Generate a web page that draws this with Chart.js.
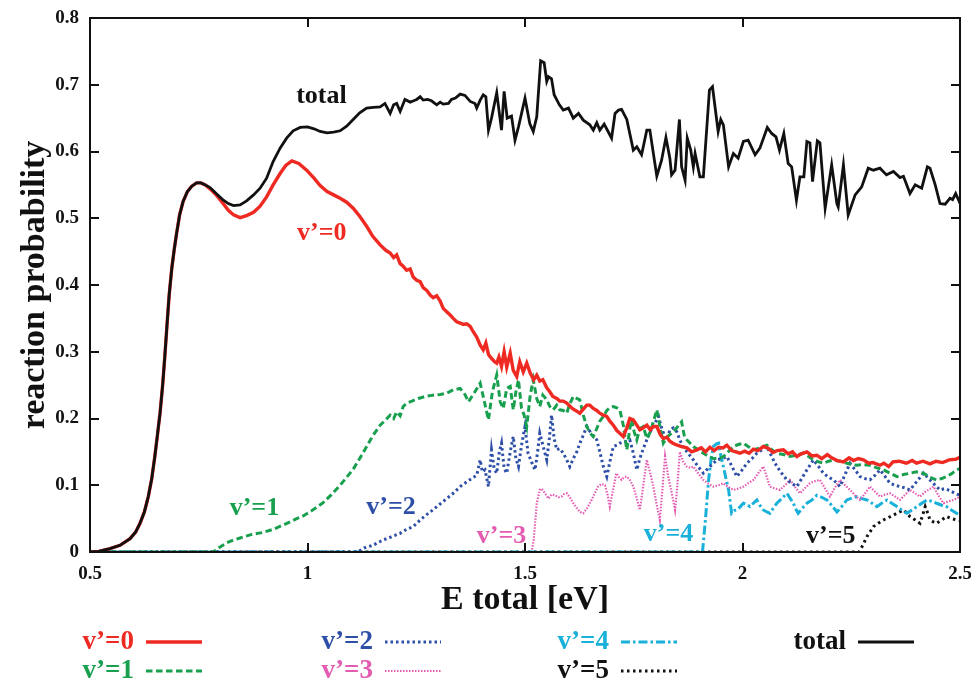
<!DOCTYPE html>
<html>
<head>
<meta charset="utf-8">
<title>reaction probability</title>
<script src="https://cdn.jsdelivr.net/npm/chart.js@4.4.1/dist/chart.umd.min.js"></script>
<style>
  html, body { margin: 0; padding: 0; background: #fff; }
  #wrap { width: 971px; height: 683px; }
</style>
</head>
<body>
<div id="wrap"><canvas id="prob" width="971" height="683"></canvas></div>
<script>
// =====================
// Reaction probability vs total energy, resolved by product vibrational state v'
// Each curve is a list of [E total (eV), probability] pairs
// =====================

const totalCurve = [
  [0.5,0],[0.52,0.001],[0.546,0.005],[0.569,0.010],[0.592,0.020],[0.605,0.030],[0.615,0.043],[0.625,0.060],[0.634,0.083],[0.642,0.110],
  [0.649,0.143],[0.655,0.175],[0.661,0.208],[0.667,0.250],[0.672,0.293],[0.677,0.340],[0.682,0.385],[0.688,0.425],[0.694,0.455],[0.699,0.477],
  [0.706,0.505],[0.714,0.525],[0.724,0.540],[0.734,0.548],[0.745,0.553],[0.755,0.553],[0.765,0.550],
  [0.776,0.546],[0.79,0.537],[0.805,0.528],[0.818,0.522],[0.83,0.519],[0.845,0.520],[0.86,0.526],[0.876,0.535],[0.891,0.545],[0.906,0.560],
  [0.921,0.585],[0.937,0.605],[0.952,0.620],[0.967,0.631],[0.983,0.636],[1.0,0.637],[1.015,0.634],[1.029,0.630],[1.045,0.628],[1.06,0.629],
  [1.075,0.631],[1.09,0.638],[1.105,0.648],[1.12,0.658],[1.136,0.665],[1.151,0.666],[1.167,0.667],
  [1.178,0.672],[1.19,0.657],[1.198,0.670],[1.205,0.672],[1.213,0.660],[1.224,0.678],[1.236,0.674],[1.244,0.676],[1.251,0.678],[1.259,0.682],
  [1.266,0.677],[1.276,0.678],[1.285,0.676],[1.297,0.670],[1.305,0.674],[1.312,0.671],[1.324,0.672],[1.331,0.678],[1.34,0.680],[1.351,0.686],
  [1.362,0.684],[1.374,0.675],[1.385,0.672],[1.389,0.665],[1.397,0.677],[1.404,0.685],[1.41,0.682],
  [1.416,0.632],[1.423,0.650],[1.435,0.688],[1.446,0.632],[1.452,0.690],[1.459,0.650],[1.469,0.653],[1.477,0.617],[1.485,0.637],[1.5,0.680],
  [1.511,0.642],[1.519,0.630],[1.527,0.652],[1.536,0.736],[1.544,0.733],[1.55,0.705],[1.554,0.712],[1.561,0.709],[1.567,0.685],[1.579,0.670],
  [1.588,0.662],[1.6,0.665],[1.611,0.650],[1.623,0.657],[1.634,0.647],[1.649,0.640],[1.657,0.632],[1.665,0.643],[1.672,0.632],[1.682,0.641],
  [1.691,0.630],[1.699,0.620],[1.707,0.657],[1.715,0.662],[1.722,0.663],[1.734,0.648],[1.749,0.602],[1.757,0.607],[1.768,0.595],[1.78,0.632],
  [1.787,0.632],[1.803,0.563],[1.814,0.587],[1.824,0.621],[1.833,0.590],[1.837,0.565],[1.845,0.572],[1.855,0.648],[1.86,0.577],[1.868,0.557],
  [1.873,0.620],[1.881,0.602],[1.887,0.577],[1.891,0.597],[1.902,0.562],[1.91,0.562],[1.924,0.692],[1.931,0.697],[1.944,0.630],[1.95,0.648],
  [1.956,0.640],[1.968,0.577],[1.979,0.597],[1.99,0.590],[2.002,0.615],[2.013,0.617],[2.029,0.595],[2.04,0.605],[2.057,0.636],[2.067,0.627],
  [2.077,0.622],[2.085,0.602],[2.095,0.627],[2.105,0.582],[2.113,0.577],[2.124,0.527],[2.132,0.562],[2.141,0.562],[2.148,0.615],[2.155,0.613],
  [2.161,0.555],[2.172,0.616],[2.178,0.613],[2.19,0.515],[2.205,0.580],[2.217,0.522],[2.22,0.517],[2.232,0.580],[2.243,0.505],[2.259,0.535],
  [2.274,0.547],[2.289,0.575],[2.301,0.572],[2.316,0.575],[2.331,0.565],[2.347,0.570],[2.362,0.561],[2.37,0.563],[2.385,0.537],[2.397,0.550],
  [2.412,0.545],[2.425,0.577],[2.431,0.575],[2.443,0.550],[2.454,0.522],[2.466,0.521],[2.477,0.530],[2.483,0.528],[2.49,0.537],[2.497,0.527],
  [2.5,0.522]
];

const v0Curve = [
  [0.5,0],[0.52,0.001],[0.546,0.005],[0.569,0.010],[0.592,0.020],[0.605,0.030],[0.615,0.043],[0.625,0.060],[0.634,0.083],[0.642,0.110],
  [0.649,0.143],[0.655,0.175],[0.661,0.208],[0.667,0.250],[0.672,0.293],[0.677,0.340],[0.682,0.385],[0.688,0.425],[0.694,0.455],[0.699,0.477],
  [0.706,0.505],[0.714,0.525],[0.724,0.540],[0.734,0.548],[0.745,0.553],[0.755,0.553],[0.765,0.550],
  [0.776,0.544],[0.79,0.535],[0.805,0.523],[0.818,0.512],[0.83,0.505],[0.845,0.501],[0.86,0.504],[0.876,0.509],[0.891,0.518],[0.906,0.532],
  [0.921,0.550],[0.937,0.567],[0.95,0.579],[0.964,0.586],[0.98,0.582],[0.998,0.572],[1.015,0.560],[1.029,0.549],[1.045,0.540],[1.06,0.535],
  [1.075,0.530],[1.09,0.524],[1.105,0.515],[1.12,0.503],[1.136,0.488],[1.15,0.473],[1.167,0.460],[1.18,0.452],[1.19,0.448],[1.198,0.441],
  [1.205,0.445],[1.213,0.432],[1.22,0.428],[1.228,0.422],[1.236,0.424],[1.243,0.412],[1.251,0.407],[1.259,0.405],[1.266,0.396],[1.274,0.392],
  [1.282,0.385],[1.289,0.381],[1.297,0.384],[1.305,0.376],[1.312,0.365],[1.32,0.360],[1.328,0.355],[1.335,0.350],[1.343,0.345],[1.351,0.343],
  [1.358,0.341],[1.366,0.342],[1.374,0.338],[1.381,0.330],[1.389,0.322],[1.397,0.310],[1.404,0.303],[1.41,0.313],[1.416,0.296],[1.423,0.290],
  [1.43,0.285],[1.435,0.283],[1.44,0.292],[1.446,0.278],[1.452,0.300],[1.458,0.277],[1.466,0.298],[1.473,0.272],[1.481,0.263],[1.488,0.285],
  [1.496,0.270],[1.504,0.283],[1.512,0.268],[1.52,0.258],[1.527,0.265],[1.534,0.256],[1.541,0.258],[1.55,0.246],[1.557,0.240],[1.564,0.233],
  [1.573,0.230],[1.58,0.226],[1.588,0.226],[1.596,0.223],[1.604,0.218],[1.611,0.214],[1.619,0.211],[1.626,0.208],[1.634,0.214],[1.642,0.220],
  [1.649,0.220],[1.657,0.215],[1.665,0.212],[1.672,0.208],[1.68,0.205],[1.688,0.203],[1.695,0.196],[1.703,0.190],[1.711,0.182],[1.718,0.178],
  [1.726,0.173],[1.734,0.186],[1.741,0.200],[1.749,0.198],[1.757,0.190],[1.764,0.183],[1.772,0.186],[1.78,0.190],[1.788,0.183],[1.795,0.188],
  [1.803,0.188],[1.811,0.176],[1.818,0.170],[1.826,0.172],[1.833,0.166],[1.84,0.163],[1.85,0.160],[1.86,0.158],[1.872,0.156],[1.883,0.150],
  [1.895,0.153],[1.905,0.156],[1.915,0.150],[1.925,0.157],[1.935,0.152],[1.945,0.157],[1.955,0.156],[1.964,0.160],[1.975,0.152],[1.985,0.150],
  [1.994,0.148],[2.005,0.151],[2.015,0.148],[2.025,0.154],[2.035,0.152],[2.048,0.158],[2.06,0.155],[2.07,0.149],[2.08,0.152],[2.094,0.153],
  [2.105,0.147],[2.115,0.150],[2.125,0.143],[2.135,0.147],[2.148,0.150],[2.16,0.144],[2.171,0.145],[2.182,0.140],[2.195,0.146],[2.205,0.141],
  [2.218,0.137],[2.232,0.135],[2.245,0.141],[2.255,0.137],[2.266,0.140],[2.278,0.138],[2.29,0.133],[2.3,0.134],[2.316,0.130],[2.325,0.133],
  [2.336,0.128],[2.346,0.135],[2.36,0.136],[2.377,0.133],[2.39,0.137],[2.4,0.133],[2.415,0.136],[2.431,0.132],[2.445,0.136],[2.46,0.134],
  [2.475,0.138],[2.49,0.139],[2.5,0.142]
];

const v1Curve = [
  [0.5,0],[0.783,0],[0.8,0.008],[0.815,0.014],[0.83,0.018],[0.845,0.021],[0.87,0.026],[0.895,0.029],[0.921,0.034],[0.95,0.042],
  [0.975,0.050],[0.99,0.054],[1.01,0.062],[1.036,0.074],[1.055,0.086],[1.075,0.100],[1.09,0.112],[1.105,0.124],[1.12,0.140],[1.136,0.158],
  [1.15,0.174],[1.167,0.190],[1.18,0.198],[1.19,0.205],[1.198,0.200],[1.205,0.210],[1.213,0.204],[1.22,0.218],[1.228,0.223],[1.24,0.226],
  [1.255,0.230],[1.27,0.233],[1.289,0.235],[1.305,0.236],[1.32,0.238],[1.335,0.243],[1.351,0.245],[1.362,0.236],[1.37,0.225],[1.383,0.238],
  [1.397,0.253],[1.405,0.230],[1.416,0.198],[1.425,0.240],[1.435,0.265],[1.443,0.225],[1.45,0.215],[1.458,0.245],[1.466,0.248],[1.473,0.213],
  [1.479,0.240],[1.485,0.258],[1.492,0.215],[1.498,0.205],[1.504,0.188],[1.512,0.235],[1.519,0.258],[1.527,0.230],[1.534,0.218],[1.541,0.235],
  [1.55,0.228],[1.557,0.218],[1.565,0.213],[1.573,0.220],[1.58,0.213],[1.588,0.212],[1.596,0.208],[1.603,0.222],[1.611,0.233],[1.619,0.230],
  [1.626,0.228],[1.634,0.205],[1.642,0.188],[1.65,0.178],[1.657,0.173],[1.665,0.185],[1.672,0.196],[1.68,0.203],[1.688,0.212],[1.695,0.216],
  [1.703,0.218],[1.711,0.216],[1.718,0.213],[1.726,0.190],[1.734,0.153],[1.741,0.185],[1.745,0.198],[1.751,0.180],[1.757,0.168],[1.764,0.185],
  [1.772,0.188],[1.78,0.170],[1.788,0.180],[1.795,0.195],[1.803,0.213],[1.811,0.185],[1.818,0.163],[1.826,0.172],[1.833,0.176],[1.845,0.183],
  [1.86,0.195],[1.866,0.175],[1.872,0.168],[1.887,0.158],[1.9,0.152],[1.91,0.148],[1.922,0.143],[1.933,0.140],[1.945,0.140],[1.956,0.143],
  [1.967,0.150],[1.979,0.158],[1.99,0.161],[2.002,0.163],[2.013,0.158],[2.025,0.153],[2.04,0.156],[2.056,0.160],[2.068,0.153],[2.079,0.148],
  [2.094,0.146],[2.109,0.143],[2.125,0.145],[2.14,0.148],[2.152,0.143],[2.163,0.138],[2.175,0.135],[2.186,0.133],[2.198,0.136],[2.209,0.138],
  [2.224,0.136],[2.24,0.133],[2.252,0.131],[2.263,0.130],[2.278,0.131],[2.293,0.130],[2.309,0.126],[2.324,0.123],[2.34,0.118],[2.355,0.113],
  [2.37,0.116],[2.385,0.118],[2.4,0.120],[2.416,0.118],[2.431,0.112],[2.446,0.108],[2.458,0.110],[2.469,0.113],[2.48,0.117],[2.492,0.123],
  [2.5,0.125]
];

const v2Curve = [
  [0.5,0],[1.115,0],[1.13,0.006],[1.15,0.010],[1.174,0.018],[1.19,0.022],[1.213,0.028],[1.228,0.034],[1.243,0.038],[1.259,0.048],
  [1.274,0.056],[1.29,0.064],[1.305,0.072],[1.32,0.080],[1.335,0.088],[1.351,0.098],[1.366,0.105],[1.377,0.110],[1.389,0.115],[1.397,0.138],
  [1.402,0.120],[1.408,0.123],[1.416,0.098],[1.423,0.153],[1.429,0.125],[1.435,0.118],[1.441,0.150],[1.446,0.163],[1.452,0.125],[1.458,0.118],
  [1.466,0.150],[1.473,0.173],[1.479,0.140],[1.485,0.128],[1.492,0.160],[1.5,0.188],[1.507,0.148],[1.515,0.135],[1.523,0.123],[1.529,0.150],
  [1.534,0.178],[1.541,0.160],[1.55,0.138],[1.556,0.170],[1.561,0.205],[1.567,0.170],[1.573,0.153],[1.58,0.155],[1.588,0.148],[1.596,0.138],
  [1.603,0.128],[1.611,0.140],[1.619,0.150],[1.626,0.163],[1.634,0.175],[1.642,0.188],[1.65,0.180],[1.657,0.173],[1.665,0.168],[1.672,0.150],
  [1.68,0.128],[1.688,0.113],[1.695,0.135],[1.703,0.158],[1.711,0.160],[1.718,0.163],[1.726,0.165],[1.734,0.166],[1.741,0.168],[1.749,0.148],
  [1.757,0.123],[1.764,0.140],[1.772,0.155],[1.78,0.168],[1.788,0.180],[1.795,0.190],[1.803,0.198],[1.807,0.203],[1.813,0.188],[1.82,0.175],
  [1.826,0.168],[1.833,0.183],[1.841,0.186],[1.849,0.180],[1.856,0.168],[1.863,0.158],[1.875,0.148],[1.887,0.138],[1.898,0.128],[1.91,0.118],
  [1.925,0.128],[1.941,0.138],[1.953,0.140],[1.964,0.143],[1.976,0.128],[1.987,0.113],[1.998,0.122],[2.01,0.133],[2.022,0.140],[2.033,0.148],
  [2.045,0.153],[2.056,0.158],[2.067,0.143],[2.079,0.128],[2.09,0.118],[2.102,0.108],[2.113,0.103],[2.125,0.098],[2.136,0.110],[2.148,0.123],
  [2.156,0.131],[2.163,0.138],[2.175,0.128],[2.186,0.118],[2.198,0.112],[2.209,0.108],[2.217,0.103],[2.224,0.098],[2.235,0.115],[2.247,0.133],
  [2.259,0.123],[2.27,0.113],[2.282,0.110],[2.293,0.108],[2.305,0.115],[2.316,0.123],[2.328,0.113],[2.339,0.103],[2.351,0.100],[2.362,0.098],
  [2.374,0.096],[2.385,0.093],[2.4,0.105],[2.416,0.118],[2.431,0.108],[2.446,0.098],[2.454,0.093],[2.465,0.095],[2.477,0.092],[2.488,0.088],
  [2.5,0.085]
];

const v3Curve = [
  [0.5,0],[1.515,0],[1.52,0.018],[1.527,0.073],[1.534,0.093],[1.538,0.095],[1.546,0.088],[1.554,0.080],[1.561,0.086],[1.569,0.085],
  [1.577,0.082],[1.584,0.083],[1.59,0.087],[1.596,0.088],[1.604,0.081],[1.611,0.073],[1.619,0.066],[1.626,0.060],[1.634,0.058],[1.642,0.065],
  [1.649,0.073],[1.657,0.083],[1.668,0.098],[1.676,0.102],[1.684,0.100],[1.69,0.085],[1.695,0.068],[1.703,0.095],[1.71,0.118],[1.716,0.112],
  [1.722,0.108],[1.728,0.112],[1.734,0.113],[1.741,0.108],[1.749,0.098],[1.757,0.080],[1.764,0.063],[1.772,0.100],[1.78,0.138],[1.788,0.118],
  [1.795,0.098],[1.803,0.070],[1.81,0.048],[1.816,0.095],[1.822,0.143],[1.83,0.110],[1.837,0.090],[1.845,0.063],[1.849,0.090],[1.856,0.150],
  [1.864,0.135],[1.872,0.128],[1.88,0.126],[1.887,0.128],[1.898,0.118],[1.91,0.108],[1.922,0.102],[1.933,0.098],[1.945,0.100],[1.956,0.103],
  [1.968,0.097],[1.979,0.093],[1.99,0.095],[2.002,0.098],[2.013,0.103],[2.025,0.108],[2.036,0.118],[2.048,0.128],[2.056,0.112],[2.063,0.098],
  [2.075,0.095],[2.086,0.093],[2.098,0.100],[2.109,0.108],[2.12,0.098],[2.132,0.088],[2.144,0.096],[2.155,0.103],[2.166,0.106],[2.178,0.108],
  [2.19,0.095],[2.201,0.083],[2.212,0.096],[2.224,0.108],[2.236,0.100],[2.247,0.093],[2.259,0.085],[2.27,0.078],[2.282,0.088],[2.293,0.098],
  [2.305,0.090],[2.316,0.083],[2.328,0.086],[2.339,0.088],[2.351,0.083],[2.362,0.078],[2.374,0.086],[2.385,0.093],[2.397,0.088],[2.408,0.083],
  [2.42,0.090],[2.439,0.098],[2.45,0.085],[2.462,0.073],[2.474,0.076],[2.485,0.078],[2.5,0.083]
];

const v4Curve = [
  [0.5,0],[1.908,0],[1.915,0.050],[1.922,0.108],[1.928,0.140],[1.933,0.158],[1.94,0.162],[1.945,0.163],[1.95,0.145],[1.956,0.128],
  [1.962,0.110],[1.968,0.093],[1.975,0.058],[1.981,0.062],[1.987,0.063],[1.995,0.068],[2.002,0.073],[2.01,0.071],[2.017,0.068],[2.025,0.073],
  [2.033,0.078],[2.04,0.070],[2.048,0.063],[2.056,0.060],[2.063,0.058],[2.071,0.066],[2.079,0.073],[2.09,0.080],[2.102,0.088],[2.11,0.080],
  [2.117,0.073],[2.122,0.065],[2.128,0.058],[2.138,0.066],[2.148,0.073],[2.16,0.078],[2.171,0.085],[2.182,0.082],[2.194,0.078],[2.205,0.070],
  [2.217,0.060],[2.228,0.068],[2.24,0.078],[2.252,0.081],[2.263,0.083],[2.275,0.080],[2.286,0.078],[2.298,0.073],[2.309,0.068],[2.32,0.073],
  [2.332,0.078],[2.343,0.073],[2.355,0.068],[2.366,0.063],[2.378,0.058],[2.39,0.063],[2.401,0.068],[2.412,0.073],[2.424,0.078],[2.435,0.076],
  [2.446,0.073],[2.458,0.070],[2.469,0.068],[2.48,0.063],[2.492,0.058],[2.5,0.055]
];

const v5Curve = [
  [0.5,0],[2.268,0],[2.278,0.012],[2.286,0.023],[2.294,0.031],[2.301,0.038],[2.312,0.043],[2.324,0.048],[2.34,0.053],[2.355,0.058],
  [2.37,0.063],[2.378,0.058],[2.385,0.053],[2.397,0.048],[2.408,0.043],[2.414,0.055],[2.42,0.068],[2.426,0.058],[2.431,0.048],[2.439,0.045],
  [2.446,0.043],[2.458,0.048],[2.469,0.053],[2.48,0.050],[2.492,0.048],[2.5,0.047]
];

// Axis tick values
const energyTicks = [0.5, 1, 1.5, 2, 2.5];
const probTicks = [0, 0.1, 0.2, 0.3, 0.4, 0.5, 0.6, 0.7, 0.8];

// Series names as shown in the key
const seriesNames = ['v\u2019=0', 'v\u2019=1', 'v\u2019=2', 'v\u2019=3', 'v\u2019=4', 'v\u2019=5', 'total'];

const SERIF = '"Liberation Serif", "DejaVu Serif", serif';

// line styles for each series
const styles = {
  'v\u2019=0': { color: '#ee2a22', width: 3.4, dash: [] },
  'v\u2019=1': { color: '#19a04f', width: 3, dash: [6.5, 3.5] },
  'v\u2019=2': { color: '#2e4fa8', width: 3, dash: [2.5, 3] },
  'v\u2019=3': { color: '#e35cb2', width: 2.2, dash: [1.5, 1.5] },
  'v\u2019=4': { color: '#19b0da', width: 3, dash: [9, 3, 2.5, 3] },
  'v\u2019=5': { color: '#111111', width: 3, dash: [2.5, 3.5] },
  'total':     { color: '#111111', width: 2.8, dash: [] }
};

const toPoints = curve => curve.map(([e, p]) => ({ x: e, y: p }));

function makeSet(name, curve) {
  const s = styles[name];
  return {
    label: name,
    data: toPoints(curve),
    borderColor: s.color,
    borderWidth: s.width,
    borderDash: s.dash,
    pointRadius: 0,
    tension: 0,
    fill: false
  };
}

// index 0 is painted last, so the total curve sits on top
const datasets = [
  makeSet('total', totalCurve),
  makeSet('v\u2019=0', v0Curve),
  makeSet('v\u2019=1', v1Curve),
  makeSet('v\u2019=2', v2Curve),
  makeSet('v\u2019=3', v3Curve),
  makeSet('v\u2019=4', v4Curve),
  makeSet('v\u2019=5', v5Curve)
];

// Curve tags placed next to each curve, in data units
const curveTags = [
  { name: 'total',      e: 1.032, p: 0.683 },
  { name: 'v\u2019=0', e: 1.033, p: 0.477 },
  { name: 'v\u2019=1', e: 0.878, p: 0.066 },
  { name: 'v\u2019=2', e: 1.192, p: 0.067 },
  { name: 'v\u2019=3', e: 1.446, p: 0.024 },
  { name: 'v\u2019=4', e: 1.83,  p: 0.026 },
  { name: 'v\u2019=5', e: 2.203, p: 0.024 }
];

// Box around the plot with inward tick marks on all four sides
const frameBox = {
  id: 'frameBox',
  afterDatasetsDraw(chart) {
    const { ctx, chartArea: a, scales: { x, y } } = chart;
    const len = 9;
    ctx.save();
    ctx.strokeStyle = '#111';
    ctx.lineWidth = 2;
    ctx.strokeRect(a.left, a.top, a.right - a.left, a.bottom - a.top);
    ctx.beginPath();
    x.ticks.forEach(t => {
      const px = Math.round(x.getPixelForValue(t.value));
      ctx.moveTo(px, a.bottom); ctx.lineTo(px, a.bottom - len);
      ctx.moveTo(px, a.top);    ctx.lineTo(px, a.top + len);
    });
    y.ticks.forEach(t => {
      const py = Math.round(y.getPixelForValue(t.value));
      ctx.moveTo(a.left, py);  ctx.lineTo(a.left + len, py);
      ctx.moveTo(a.right, py); ctx.lineTo(a.right - len, py);
    });
    ctx.stroke();

    // curve tags
    ctx.font = 'bold 26px ' + SERIF;
    ctx.textAlign = 'center';
    ctx.textBaseline = 'middle';
    curveTags.forEach(t => {
      ctx.fillStyle = styles[t.name].color;
      ctx.fillText(t.name, x.getPixelForValue(t.e), y.getPixelForValue(t.p));
    });
    ctx.restore();
  }
};

// Key under the x axis: name first, then a short line sample
const keyBox = {
  id: 'keyBox',
  afterDraw(chart) {
    const { ctx } = chart;
    const cols = [134, 373, 609, 846];      // right edge of the name in each column
    const rows = [642, 671];
    const slots = [[0, 0], [0, 1], [1, 0], [1, 1], [2, 0], [2, 1], [3, 0]];
    ctx.save();
    ctx.font = 'bold 27px ' + SERIF;
    ctx.textAlign = 'right';
    ctx.textBaseline = 'middle';
    seriesNames.forEach((name, i) => {
      const s = styles[name];
      const [c, r] = slots[i];
      const xr = cols[c], yy = rows[r];
      ctx.fillStyle = s.color;
      ctx.fillText(name, xr, yy);
      ctx.strokeStyle = s.color;
      ctx.lineWidth = s.width;
      ctx.setLineDash(s.dash);
      ctx.beginPath();
      ctx.moveTo(xr + 12, yy);
      ctx.lineTo(xr + 68, yy);
      ctx.stroke();
    });
    ctx.restore();
  }
};

new Chart(document.getElementById('prob'), {
  type: 'line',
  data: { datasets },
  options: {
    responsive: false,
    animation: false,
    devicePixelRatio: 1,
    layout: { padding: { left: 0, right: 11, top: 18, bottom: 0 } },
    plugins: {
      legend: { display: false },
      tooltip: { enabled: false }
    },
    scales: {
      x: {
        type: 'linear',
        min: 0.5,
        max: 2.5,
        afterBuildTicks: s => { s.ticks = energyTicks.map(v => ({ value: v })); },
        afterFit: s => { s.height = 131; s.paddingLeft = 0; s.paddingRight = 0; },
        grid: { display: false, drawTicks: false },
        border: { display: false },
        ticks: {
          padding: 11,
          color: '#111',
          autoSkip: false,
          maxRotation: 0,
          font: { family: SERIF, size: 19, weight: 'bold' },
          callback: v => String(v)
        },
        title: {
          display: true,
          text: 'E total [eV]',
          color: '#111',
          font: { family: SERIF, size: 34, weight: 'bold' },
          padding: { top: 0, bottom: 62 }
        }
      },
      y: {
        type: 'linear',
        min: 0,
        max: 0.8,
        afterBuildTicks: s => { s.ticks = probTicks.map(v => ({ value: v })); },
        afterFit: s => { s.width = 90; s.paddingTop = 0; s.paddingBottom = 0; },
        grid: { display: false, drawTicks: false },
        border: { display: false },
        ticks: {
          padding: 11,
          color: '#111',
          font: { family: SERIF, size: 19, weight: 'bold' },
          callback: v => String(v)
        },
        title: {
          display: true,
          text: 'reaction probability',
          color: '#111',
          font: { family: SERIF, size: 34, weight: 'bold' },
          padding: { top: 15, bottom: 0 }
        }
      }
    }
  },
  plugins: [frameBox, keyBox]
});
</script>
</body>
</html>
